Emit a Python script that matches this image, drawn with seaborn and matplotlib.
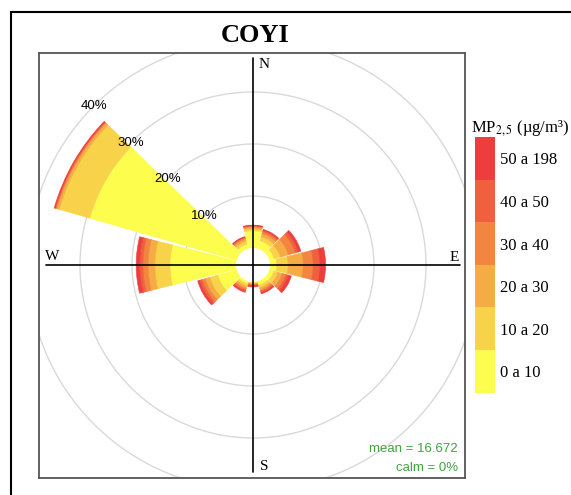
import numpy as np
import matplotlib as mpl
import matplotlib.pyplot as plt
import seaborn as sns
from matplotlib.colors import ListedColormap, BoundaryNorm
from matplotlib.patches import Circle, Rectangle

# wind direction sectors (degrees from north) and stacked frequencies (%)
directions = [0, 30, 60, 90, 120, 150, 180, 210, 240, 270, 300, 330]
pm_0_10 = [3.3, 1.6, 1.0, 1.3, 0.9, 0.8, 0.15, 0.5, 3.8, 12.7, 29.4, 0.9]
pm_10_20 = [0.4, 0.8, 1.2, 2.2, 0.8, 0.5, 0.15, 0.5, 1.6, 2.9, 6.1, 0.6]
pm_20_30 = [0.3, 0.6, 1.6, 2.9, 0.9, 0.4, 0.15, 0.4, 0.9, 1.3, 0.5, 0.4]
pm_30_40 = [0.2, 0.4, 1.4, 1.9, 0.7, 0.3, 0.15, 0.3, 0.6, 1.0, 0.2, 0.25]
pm_40_50 = [0.1, 0.25, 0.6, 1.3, 0.5, 0.25, 0.15, 0.25, 0.5, 0.6, 0.15, 0.15]
pm_50_198 = [0.1, 0.2, 0.5, 1.1, 0.6, 0.25, 0.2, 0.25, 0.4, 0.7, 0.15, 0.1]
bands = [pm_0_10, pm_10_20, pm_20_30, pm_30_40, pm_40_50, pm_50_198]
band_labels = ['0 a 10', '10 a 20', '20 a 30', '30 a 40', '40 a 50', '50 a 198']
band_colors = ['#fdfd4e', '#f8d34a', '#f5ac45', '#f28540', '#f0603f', '#ee3d3d']
grid_pct = [10, 20, 30, 40]
label_pct = [10, 20, 30, 40]
mean_value = 16.672
calm_pct = 0

sns.set_style('white')
plt.rcParams['font.family'] = ['Liberation Serif', 'DejaVu Serif']
plt.rcParams['mathtext.fontset'] = 'stix'
plt.rcParams['text.color'] = 'black'
plt.rcParams['ytick.color'] = 'black'
plt.rcParams['xtick.color'] = 'black'

W, H = 571, 495
fig = plt.figure(figsize=(W / 100, H / 100), dpi=100)


def fbox(x0, y0, x1, y1):
    # pixel box (top-left origin) -> figure fraction rect
    return [x0 / W, 1 - y1 / H, (x1 - x0) / W, (y1 - y0) / H]


cx, cy = 253, 265      # rose centre in pixels
unit = 5.2             # pixels per percent
hole = 17 / unit       # inner offset
px0, py0, px1, py1 = 39, 53, 465, 478

# background panel: frame + grid circles
ax_bg = fig.add_axes(fbox(px0, py0, px1, py1))
ax_bg.set_xlim((px0 - cx) / unit, (px1 - cx) / unit)
ax_bg.set_ylim((cy - py1) / unit, (cy - py0) / unit)
ax_bg.set_xticks([])
ax_bg.set_yticks([])
for s in ax_bg.spines.values():
    s.set_color('#555555')
    s.set_linewidth(1.3)
for p in grid_pct:
    ax_bg.add_patch(Circle((0, 0), p + hole, fill=False, ec='#d9d9d9', lw=1))

# polar axes for the stacked sectors
R = 210
ax_p = fig.add_axes(fbox(cx - R, cy - R, cx + R, cy + R), projection='polar')
ax_p.set_theta_zero_location('N')
ax_p.set_theta_direction(-1)
ax_p.set_ylim(0, R / unit - hole)
ax_p.set_rorigin(-hole)
ax_p.set_axis_off()
theta = np.deg2rad(directions)
bottom = np.zeros(len(directions))
for vals, c in zip(bands, band_colors):
    vals = np.array(vals)
    ax_p.bar(theta, vals, width=np.deg2rad(28), bottom=bottom, color=c,
             edgecolor=c, linewidth=0.4)
    bottom += vals

# overlay: axes cross and labels
ax_t = fig.add_axes(fbox(px0, py0, px1, py1))
ax_t.set_xlim(ax_bg.get_xlim())
ax_t.set_ylim(ax_bg.get_ylim())
ax_t.set_axis_off()
L = 39.8
ax_t.plot([-L, L], [0, 0], color='black', lw=1.2)
ax_t.plot([0, 0], [-L, L], color='black', lw=1.2)
ax_t.text(1.0, 37.9, 'N', ha='left', va='baseline', fontsize=11)
ax_t.text(1.3, -39.4, 'S', ha='left', va='baseline', fontsize=11)
ax_t.text(39.6, 0.8, 'E', ha='right', va='baseline', fontsize=11)
ax_t.text(-40.0, 0.95, 'W', ha='left', va='baseline', fontsize=11)
ang = np.deg2rad(315)
for p in label_pct:
    r = p + hole
    ax_t.text(r * np.sin(ang), r * np.cos(ang), f'{p}%', ha='center', va='center',
              fontsize=9.5, family='Liberation Sans')
ax_t.text(39.4, -35.9, f'mean = {mean_value}', ha='right', va='baseline',
          fontsize=9.5, family='Liberation Sans', color='#3fa33f')
ax_t.text(39.4, -39.7, f'calm = {calm_pct}%', ha='right', va='baseline',
          fontsize=9.5, family='Liberation Sans', color='#3fa33f')

# title
fig.text(255 / W, 1 - 42 / H, 'COYI', ha='center', va='baseline',
         fontsize=19, fontweight='bold')

# legend as a discrete colour key
cax = fig.add_axes(fbox(475, 137, 494.5, 392.7))
cmap = ListedColormap(band_colors)
norm = BoundaryNorm(np.arange(len(band_colors) + 1), len(band_colors))
cb = fig.colorbar(mpl.cm.ScalarMappable(norm=norm, cmap=cmap), cax=cax)
cb.set_ticks(np.arange(len(band_colors)) + 0.5, labels=band_labels)
cb.outline.set_visible(False)
cax.minorticks_off()
cax.tick_params(which='both', length=0, pad=4, labelsize=12)
fig.text(471 / W, 1 - 128 / H, 'MP$_{2,5}$ (µg/m³)', ha='left', va='center', fontsize=12)

# outer frame
fig.add_artist(Rectangle((10.5 / W, -0.1), 1.2, 1.1 - 12 / H, fill=False,
                         ec='black', lw=1.5, transform=fig.transFigure))

fig.savefig('out.png', dpi=100)
